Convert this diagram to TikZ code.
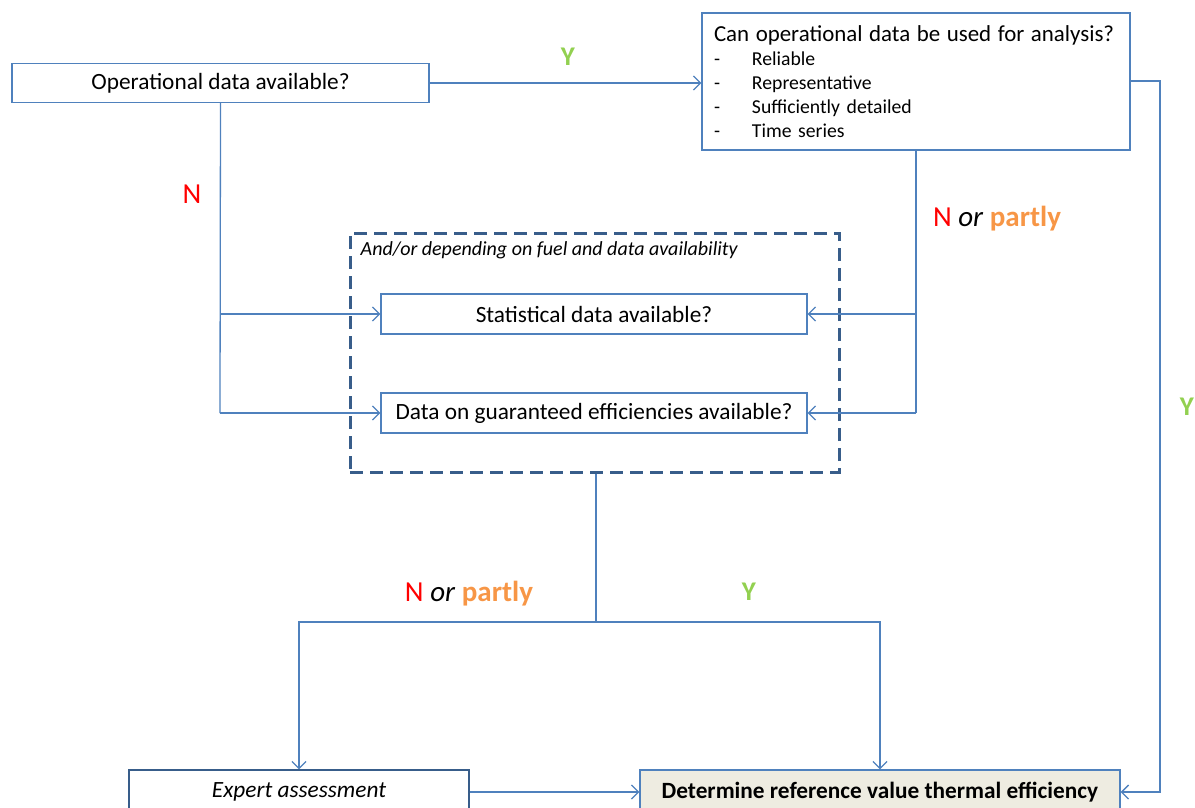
\documentclass[tikz,border=0pt]{standalone}
\usepackage{fontspec}
\setmainfont{Carlito}
\usepackage{tikz}
\usetikzlibrary{arrows.meta}

\definecolor{lineblue}{HTML}{4F81BD}
\definecolor{darkblue}{HTML}{385D8A}
\definecolor{nred}{HTML}{FF0000}
\definecolor{ygreen}{HTML}{92D050}
\definecolor{porange}{HTML}{F79646}
\definecolor{detfill}{HTML}{EEECE1}

\begin{document}
\begin{tikzpicture}[x=1pt,y=-1pt,
  qbox/.style={draw=lineblue,line width=1.3pt,rectangle,inner sep=0pt,
    font=\fontsize{23.3}{27}\selectfont},
  flow/.style={draw=lineblue,line width=1.3pt},
  arr/.style={flow,-{Straight Barb[length=7pt,width=14pt,line width=1.3pt]}},
  lab/.style={font=\fontsize{29}{33}\selectfont},
  ylab/.style={text=ygreen,font=\bfseries\fontsize{27}{31}\selectfont}]
\clip (0,0) rectangle (1195,808);

\path (220.5,83) node[qbox,minimum width=417pt,minimum height=39pt] (op) {Operational data available?};
\path (916,81.5) node[qbox,minimum width=428pt,minimum height=137pt,text width=404pt,
  align=left,font=\fontsize{19.7}{24}\selectfont] (can)
  {{\fontsize{22.9}{26}\selectfont Can operational data be used for analysis?}\\
   \makebox[38pt][l]{-}Reliable\\
   \makebox[38pt][l]{-}Representative\\
   \makebox[38pt][l]{-}Sufficiently detailed\\
   \makebox[38pt][l]{-}Time series};

\path (594.5,352.5) node[draw=darkblue,line width=3pt,dash pattern=on 13pt off 7pt,
  minimum width=489pt,minimum height=239pt,inner sep=0pt] (grp) {};
\path (grp.north west) ++(12,19) node[anchor=west,inner sep=0pt,
  font=\itshape\fontsize{20}{24}\selectfont] (grplab) {And/or depending on fuel and data availability};
\path (594,314) node[qbox,minimum width=426pt,minimum height=40pt] (stat) {Statistical data available?};
\path (594,413) node[qbox,minimum width=426pt,minimum height=40pt] (guar) {Data on guaranteed efficiencies available?};

\path (299,792) node[qbox,draw=darkblue,minimum width=340pt,minimum height=44pt,
  font=\itshape\fontsize{23.3}{27}\selectfont] (exp) {Expert assessment};
\path (880,792) node[qbox,fill=detfill,minimum width=480pt,minimum height=44pt,
  font=\bfseries\fontsize{23.3}{27}\selectfont] (det) {Determine reference value thermal efficiency};

\coordinate (rt) at (1160,81);
\coordinate (lft) at (220,413);
\coordinate (rgt) at (916,413);
\coordinate (split) at (596,622);

% operational data
\path[arr] (op.east) -- (op.east -| can.west);
\path[arr] (can.east |- rt) -- (rt) |- (det.east);
\path[flow] (op.south) -- (lft);
\path[arr] (lft |- stat.west) -- (stat.west);
\path[arr] (lft) -- (lft -| guar.west);

% usable for analysis?
\path[flow] (can.south -| rgt) -- (rgt);
\path[arr] (rgt |- stat.east) -- (stat.east);
\path[arr] (rgt) -- (rgt -| guar.east);

% statistical / guaranteed
\path[flow] (grp.south -| split) -- (split);
\path[arr] (split) -| (exp.north);
\path[arr] (split) -| (det.north);
\path[arr] (exp.east) -- (det.west);

% labels
\path (568,57) node[ylab] (y1) {Y};
\path (192,194) node[lab,text=nred] (n1) {N};
\path (997,219) node[lab] (n2) {\textcolor{nred}{N} \textit{or} \textcolor{porange}{\bfseries partly}};
\path (1187,407) node[ylab] (y2) {Y};
\path (469,594) node[lab] (n3) {\textcolor{nred}{N} \textit{or} \textcolor{porange}{\bfseries partly}};
\path (749,592) node[ylab] (y3) {Y};
\end{tikzpicture}
\end{document}
